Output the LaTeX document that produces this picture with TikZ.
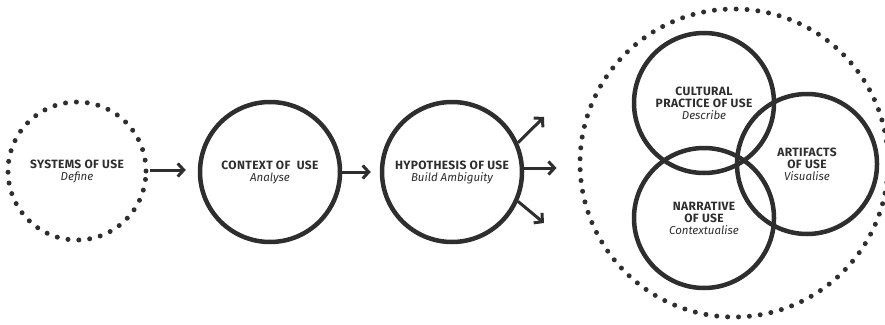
\documentclass[tikz,border=0pt]{standalone}
\usepackage{fontspec}
\setmainfont{Fira Sans}
\newfontfamily\hdfont[LetterSpace=3]{Fira Sans}
\usetikzlibrary{arrows.meta}
\definecolor{ink}{HTML}{2E2E2E}
\newcommand{\hdl}[1]{{\hdfont\fontsize{12}{16}\selectfont\bfseries #1}}
\newcommand{\sbl}[1]{{\fontsize{11.5}{16}\selectfont\itshape #1}}
\begin{document}
\begin{tikzpicture}[x=1pt,y=-1pt,
  solidc/.style={circle,draw=ink,line width=4.5pt,minimum size=140pt,inner sep=0pt,align=center,text=ink},
  dotc/.style={circle,draw=ink,line width=5pt,line cap=round,dash pattern=on 0pt off 10.9pt,inner sep=0pt,align=center,text=ink},
  arr/.style={draw=ink,line width=3pt,-{Straight Barb[length=6pt,width=13pt,line width=3pt]}},
  ]
\useasboundingbox (0,0) rectangle (885,324);
\node[dotc,minimum size=138pt] (sys) at (77,171) {\hdl{SYSTEMS OF USE}\\\sbl{Define}};
\node[solidc] (ctx) at (270,172) {\hdl{CONTEXT OF\ \ USE}\\\sbl{Analyse}};
\node[solidc] (hyp) at (452,172) {\hdl{HYPOTHESIS OF USE}\\\sbl{Build Ambiguity}};
\node[dotc,minimum size=308pt] (big) at (734,163) {};
\node[solidc] (cul) at (704,103) {\hdl{CULTURAL}\\\hdl{PRACTICE OF USE}\\\sbl{Describe}};
\node[solidc] (nar) at (704,218) {\hdl{NARRATIVE}\\\hdl{OF USE}\\\sbl{Contextualise}};
\node[solidc] (art) at (807,164) {\hdl{ARTIFACTS}\\\hdl{OF USE}\\\sbl{Visualise}};
\coordinate (up) at (544,117);
\coordinate (dn) at (544,223);
\draw[arr,shorten <=1pt,shorten >=12pt] (sys.east |- 0,170) -- (ctx.west |- 0,170);
\draw[arr,shorten >=9pt] (ctx.east) -- (hyp.west);
\draw[arr,shorten >=21pt] (hyp.east |- 0,168) -- (big.west |- 0,168);
\draw[arr] (hyp.24) -- (up);
\draw[arr] (hyp.-24) -- (dn);
\end{tikzpicture}
\end{document}
